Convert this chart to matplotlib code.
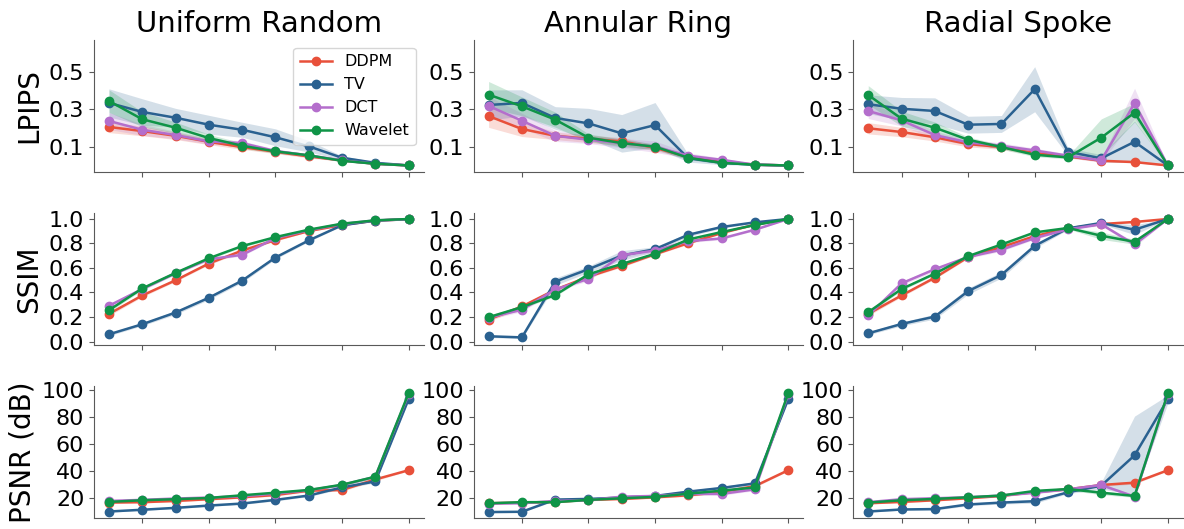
import matplotlib.pyplot as plt
import numpy as np

# x positions (sampling levels), 10 per curve
steps = np.arange(1, 11)
masks = ['Uniform Random', 'Annular Ring', 'Radial Spoke']
methods = ['DDPM', 'TV', 'DCT', 'Wavelet']
colors = {'DDPM': '#E8503A', 'TV': '#2A6190', 'DCT': '#B46ECC', 'Wavelet': '#0F9447'}

# ---- LPIPS ----
lpips_uniform = {
    'DDPM': [0.207, 0.185, 0.160, 0.128, 0.100, 0.075, 0.050, 0.029, 0.011, 0.002],
    'TV': [0.335, 0.287, 0.256, 0.219, 0.192, 0.152, 0.104, 0.043, 0.016, 0.002],
    'DCT': [0.239, 0.192, 0.164, 0.130, 0.121, 0.079, 0.056, 0.029, 0.011, 0.002],
    'Wavelet': [0.345, 0.248, 0.203, 0.148, 0.107, 0.077, 0.056, 0.027, 0.011, 0.002],
}
lpips_uniform_sd = {
    'DDPM': [0.03, 0.025, 0.02, 0.015, 0.012, 0.01, 0.008, 0.005, 0.003, 0.001],
    'TV': [0.075, 0.07, 0.05, 0.05, 0.04, 0.045, 0.03, 0.01, 0.005, 0.001],
    'DCT': [0.045, 0.03, 0.02, 0.015, 0.012, 0.01, 0.008, 0.005, 0.003, 0.001],
    'Wavelet': [0.06, 0.04, 0.03, 0.02, 0.015, 0.01, 0.008, 0.005, 0.003, 0.001],
}
lpips_annular = {
    'DDPM': [0.265, 0.196, 0.160, 0.144, 0.130, 0.096, 0.047, 0.024, 0.006, 0.002],
    'TV': [0.324, 0.335, 0.255, 0.226, 0.173, 0.217, 0.040, 0.016, 0.006, 0.002],
    'DCT': [0.319, 0.240, 0.160, 0.139, 0.121, 0.102, 0.054, 0.032, 0.006, 0.002],
    'Wavelet': [0.379, 0.317, 0.246, 0.150, 0.121, 0.102, 0.043, 0.016, 0.006, 0.002],
}
lpips_annular_sd = {
    'DDPM': [0.06, 0.04, 0.02, 0.02, 0.02, 0.015, 0.01, 0.006, 0.003, 0.001],
    'TV': [0.08, 0.07, 0.06, 0.08, 0.1, 0.12, 0.02, 0.01, 0.003, 0.001],
    'DCT': [0.05, 0.04, 0.03, 0.02, 0.025, 0.03, 0.015, 0.01, 0.003, 0.001],
    'Wavelet': [0.07, 0.05, 0.04, 0.02, 0.02, 0.015, 0.01, 0.006, 0.003, 0.001],
}
lpips_radial = {
    'DDPM': [0.200, 0.180, 0.152, 0.116, 0.100, 0.068, 0.050, 0.027, 0.020, 0.002],
    'TV': [0.328, 0.304, 0.292, 0.219, 0.223, 0.408, 0.075, 0.040, 0.128, 0.002],
    'DCT': [0.292, 0.242, 0.164, 0.125, 0.107, 0.082, 0.054, 0.029, 0.333, 0.002],
    'Wavelet': [0.377, 0.251, 0.203, 0.139, 0.100, 0.059, 0.045, 0.150, 0.283, 0.002],
}
lpips_radial_sd = {
    'DDPM': [0.03, 0.025, 0.02, 0.015, 0.012, 0.01, 0.008, 0.006, 0.004, 0.001],
    'TV': [0.05, 0.06, 0.07, 0.045, 0.045, 0.12, 0.02, 0.02, 0.11, 0.001],
    'DCT': [0.04, 0.03, 0.02, 0.015, 0.015, 0.012, 0.01, 0.01, 0.08, 0.001],
    'Wavelet': [0.05, 0.04, 0.03, 0.015, 0.012, 0.01, 0.008, 0.1, 0.05, 0.001],
}

# ---- SSIM ----
ssim_uniform = {
    'DDPM': [0.226, 0.376, 0.499, 0.635, 0.741, 0.826, 0.899, 0.948, 0.984, 0.995],
    'TV': [0.060, 0.142, 0.237, 0.357, 0.496, 0.684, 0.823, 0.946, 0.984, 0.995],
    'DCT': [0.292, 0.428, 0.556, 0.670, 0.706, 0.842, 0.905, 0.956, 0.986, 0.995],
    'Wavelet': [0.256, 0.433, 0.559, 0.678, 0.777, 0.850, 0.910, 0.959, 0.986, 0.997],
}
ssim_uniform_sd = {
    'DDPM': [0.015, 0.012, 0.01, 0.01, 0.01, 0.008, 0.006, 0.004, 0.002, 0.001],
    'TV': [0.012, 0.012, 0.015, 0.015, 0.015, 0.012, 0.01, 0.005, 0.002, 0.001],
    'DCT': [0.015, 0.012, 0.01, 0.01, 0.01, 0.008, 0.006, 0.004, 0.002, 0.001],
    'Wavelet': [0.015, 0.012, 0.01, 0.01, 0.01, 0.008, 0.006, 0.004, 0.002, 0.001],
}
ssim_annular = {
    'DDPM': [0.180, 0.286, 0.422, 0.529, 0.616, 0.711, 0.801, 0.883, 0.951, 0.997],
    'TV': [0.044, 0.035, 0.488, 0.589, 0.700, 0.752, 0.869, 0.932, 0.970, 0.997],
    'DCT': [0.196, 0.259, 0.425, 0.510, 0.703, 0.741, 0.817, 0.839, 0.910, 0.997],
    'Wavelet': [0.199, 0.281, 0.379, 0.548, 0.632, 0.714, 0.831, 0.891, 0.948, 0.997],
}
ssim_annular_sd = {
    'DDPM': [0.015, 0.015, 0.012, 0.01, 0.01, 0.01, 0.008, 0.006, 0.004, 0.001],
    'TV': [0.01, 0.01, 0.03, 0.025, 0.04, 0.02, 0.015, 0.01, 0.005, 0.001],
    'DCT': [0.015, 0.015, 0.015, 0.015, 0.02, 0.015, 0.012, 0.01, 0.006, 0.001],
    'Wavelet': [0.015, 0.012, 0.01, 0.01, 0.01, 0.01, 0.008, 0.006, 0.004, 0.001],
}
ssim_radial = {
    'DDPM': [0.226, 0.376, 0.520, 0.687, 0.768, 0.858, 0.921, 0.956, 0.973, 0.997],
    'TV': [0.068, 0.144, 0.204, 0.411, 0.542, 0.779, 0.921, 0.965, 0.910, 0.997],
    'DCT': [0.213, 0.474, 0.589, 0.689, 0.747, 0.842, 0.913, 0.954, 0.790, 0.997],
    'Wavelet': [0.240, 0.428, 0.553, 0.695, 0.790, 0.888, 0.924, 0.861, 0.812, 0.997],
}
ssim_radial_sd = {
    'DDPM': [0.015, 0.012, 0.01, 0.01, 0.01, 0.008, 0.006, 0.005, 0.005, 0.001],
    'TV': [0.012, 0.015, 0.02, 0.025, 0.025, 0.02, 0.01, 0.01, 0.04, 0.001],
    'DCT': [0.015, 0.015, 0.015, 0.012, 0.012, 0.01, 0.008, 0.01, 0.02, 0.001],
    'Wavelet': [0.015, 0.012, 0.01, 0.01, 0.01, 0.008, 0.008, 0.03, 0.02, 0.001],
}

# ---- PSNR (dB) ----
psnr_uniform = {
    'DDPM': [16.8, 17.1, 18.0, 19.3, 20.7, 22.4, 25.6, 26.1, 33.9, 40.7],
    'TV': [10.2, 11.5, 12.9, 14.6, 16.1, 18.8, 22.0, 28.0, 32.4, 93.2],
    'DCT': [18.0, 18.8, 19.8, 20.5, 21.5, 23.4, 25.9, 29.8, 35.9, 96.8],
    'Wavelet': [17.3, 18.5, 19.3, 20.2, 22.2, 24.1, 26.1, 30.0, 35.9, 97.6],
}
psnr_uniform_sd = {
    'DDPM': [0.6, 0.6, 0.6, 0.7, 0.7, 0.8, 0.8, 1.0, 1.0, 0.5],
    'TV': [0.5, 0.5, 0.6, 0.6, 0.7, 0.8, 0.8, 1.0, 1.0, 1.0],
    'DCT': [0.6, 0.6, 0.6, 0.7, 0.7, 0.8, 0.8, 1.0, 1.2, 0.5],
    'Wavelet': [0.6, 0.6, 0.6, 0.7, 0.7, 0.8, 0.8, 1.0, 1.2, 0.5],
}
psnr_annular = {
    'DDPM': [16.3, 16.8, 17.3, 18.8, 19.5, 20.7, 22.2, 24.6, 29.0, 40.7],
    'TV': [9.8, 10.0, 19.0, 19.5, 20.5, 21.7, 24.9, 27.6, 31.0, 93.2],
    'DCT': [16.1, 16.3, 18.0, 18.5, 21.2, 21.7, 23.2, 23.2, 26.6, 96.8],
    'Wavelet': [16.3, 17.1, 17.1, 18.8, 20.0, 21.0, 23.4, 25.6, 28.0, 97.6],
}
psnr_annular_sd = {
    'DDPM': [0.6, 0.6, 0.6, 0.7, 0.7, 0.8, 0.8, 1.0, 1.0, 0.5],
    'TV': [0.5, 0.5, 0.8, 0.8, 1.0, 1.0, 1.0, 1.2, 1.2, 1.0],
    'DCT': [0.6, 0.6, 0.6, 0.7, 1.0, 1.0, 0.8, 1.0, 1.0, 0.5],
    'Wavelet': [0.6, 0.6, 0.6, 0.7, 0.7, 0.8, 0.8, 1.0, 1.0, 0.5],
}
psnr_radial = {
    'DDPM': [16.3, 17.3, 18.5, 20.0, 21.7, 24.6, 26.6, 29.8, 31.5, 40.7],
    'TV': [10.2, 11.7, 12.0, 15.4, 16.8, 17.8, 24.4, 29.3, 51.7, 93.2],
    'DCT': [17.1, 19.3, 20.0, 20.7, 22.0, 24.1, 26.6, 29.8, 21.2, 96.8],
    'Wavelet': [16.8, 18.5, 19.5, 20.7, 22.0, 25.4, 26.8, 24.1, 21.7, 97.6],
}
psnr_radial_sd = {
    'DDPM': [0.6, 0.6, 0.6, 0.7, 0.7, 0.8, 0.8, 1.0, 1.0, 0.5],
    'TV': [0.5, 0.6, 0.8, 1.0, 1.0, 1.5, 1.0, 2.5, 29.0, 3.0],
    'DCT': [0.6, 0.6, 0.6, 0.7, 0.7, 0.8, 0.8, 1.0, 1.0, 0.5],
    'Wavelet': [0.6, 0.6, 0.6, 0.7, 0.7, 0.8, 0.8, 1.5, 1.0, 0.5],
}

rows = [
    ('LPIPS', [lpips_uniform, lpips_annular, lpips_radial],
     [lpips_uniform_sd, lpips_annular_sd, lpips_radial_sd],
     [0.1, 0.3, 0.5], (-0.033, 0.67)),
    ('SSIM', [ssim_uniform, ssim_annular, ssim_radial],
     [ssim_uniform_sd, ssim_annular_sd, ssim_radial_sd],
     [0.0, 0.2, 0.4, 0.6, 0.8, 1.0], (-0.027, 1.046)),
    ('PSNR (dB)', [psnr_uniform, psnr_annular, psnr_radial],
     [psnr_uniform_sd, psnr_annular_sd, psnr_radial_sd],
     [20, 40, 60, 80, 100], (5.4, 103)),
]

plt.rcParams['axes.edgecolor'] = '0.35'
plt.rcParams['xtick.color'] = '0.35'
plt.rcParams['ytick.color'] = '0.35'
plt.rcParams['xtick.labelcolor'] = 'black'
plt.rcParams['ytick.labelcolor'] = 'black'

fig, axes = plt.subplots(3, 3, figsize=(11.84, 5.29), dpi=100)
fig.subplots_adjust(left=0.0794, right=0.999, top=0.9244, bottom=0.0208,
                    wspace=0.152, hspace=0.31)

for r, (ylabel, means, sds, yticks, ylim) in enumerate(rows):
    for c in range(3):
        ax = axes[r, c]
        for m in methods:
            mu = np.array(means[c][m])
            sd = np.array(sds[c][m])
            ax.fill_between(steps, mu - sd, mu + sd, color=colors[m], alpha=0.2, lw=0)
            ax.plot(steps, mu, '-o', color=colors[m], lw=1.8, ms=6, label=m)
        ax.set_xticks([2, 4, 6, 8, 10])
        ax.set_xticklabels([])
        ax.set_yticks(yticks)
        ax.set_ylim(*ylim)
        ax.tick_params(axis='y', labelsize=16)
        ax.spines['top'].set_visible(False)
        ax.spines['right'].set_visible(False)
        if r == 0:
            ax.set_title(masks[c], fontsize=21)
        if c == 0:
            ax.set_ylabel(ylabel, fontsize=20)

axes[0, 0].legend(loc='upper right', fontsize=11.5)
fig.savefig('out.png', dpi=100)
